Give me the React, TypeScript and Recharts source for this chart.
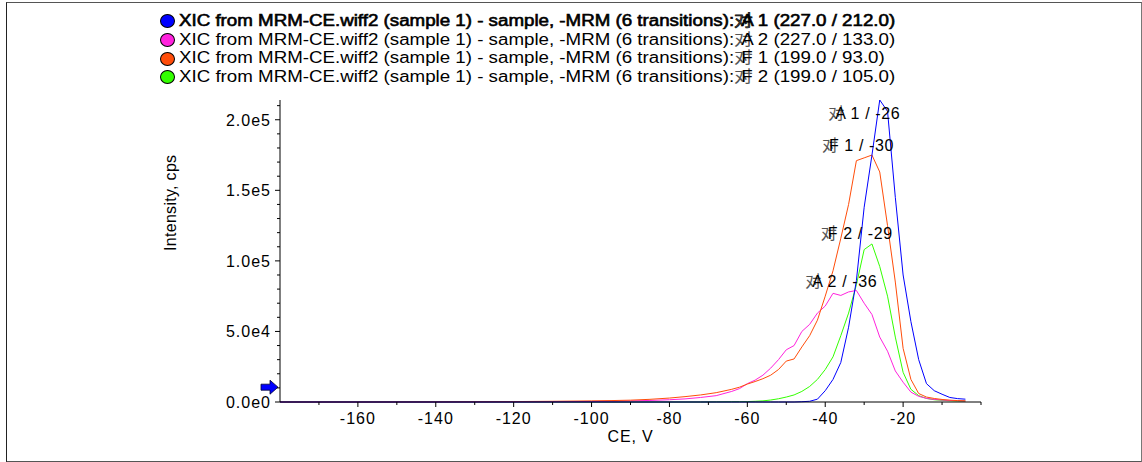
import { LineChart, Line, XAxis, YAxis, ReferenceDot } from "recharts"

// CE values (V) and intensities (cps)
const ce = [
  -180, -160, -140, -120, -110, -100, -95, -90, -85, -80, -76, -72, -68, -64,
  -62, -60, -58, -56, -54, -52, -50, -48, -46, -44, -42, -40, -38, -36, -34,
  -32, -30, -28, -26, -24, -22, -20, -18, -16, -14, -12, -10, -8, -6, -4,
]

const a1 = [
  0, 0, 0, 0, 0, 0, 0, 0, 0, 0, 0, 0, 0, 0,
  0, 0, 0, 0, 0, 0, 0, 0, 200, 500, 2000, 8000, 16000, 28000, 53000,
  86000, 138000, 175000, 214000, 206000, 145000, 90000, 57000, 30000, 13000, 8000, 5500, 3200, 2400, 2000,
]

const a2 = [
  0, 0, 0, 100, 200, 400, 600, 800, 1100, 1600, 2200, 3200, 4500, 7500,
  9500, 13000, 15500, 19000, 24000, 30000, 37000, 40000, 50000, 55000, 63000, 68000, 77000, 75500, 78000,
  79000, 70000, 62000, 46000, 36000, 22000, 14000, 7000, 4000, 2600, 1800, 1400, 1100, 900, 700,
]

const f1 = [
  0, 0, 100, 300, 500, 800, 1000, 1300, 1900, 2800, 3800, 5000, 6600, 9000,
  10500, 12700, 14500, 16500, 19000, 23000, 29000, 30500, 39000, 47000, 58000, 75000, 93000, 116000, 140000,
  171000, 173000, 175000, 163000, 125000, 85000, 38000, 16000, 6000, 3500, 2500, 1800, 1300, 1000, 800,
]

const f2 = [
  0, 0, 0, 0, 0, 0, 0, 0, 0, 0, 0, 0, 100, 200,
  250, 300, 500, 800, 1400, 2300, 3500, 5000, 7500, 11000, 16000, 23000, 32000, 47000, 63000,
  83000, 108000, 112000, 96000, 75000, 46000, 21000, 9000, 4500, 2500, 1600, 1200, 900, 700, 600,
]

const prefix = "XIC from MRM-CE.wiff2 (sample 1) - sample, -MRM (6 transitions):"

const series = [
  { key: "f2", glyph: "F", rest: " 2 (199.0 / 105.0)", color: "#33ff00", values: f2 },
  { key: "a2", glyph: "A", rest: " 2 (227.0 / 133.0)", color: "#ff22dd", values: a2 },
  { key: "f1", glyph: "F", rest: " 1 (199.0 / 93.0)", color: "#ff4d0a", values: f1 },
  { key: "a1", glyph: "A", rest: " 1 (227.0 / 212.0)", color: "#0000ff", values: a1 },
]
const legendOrder = ["a1", "a2", "f1", "f2"]

const peakLabels = [
  { glyph: "A", text: " 1 / -26", x: -30, y: 205000 },
  { glyph: "F", text: " 1 / -30", x: -31.6, y: 182000 },
  { glyph: "F", text: " 2 / -29", x: -31.9, y: 119700 },
  { glyph: "A", text: " 2 / -36", x: -35.9, y: 85700 },
]

const xMinor = [-170, -160, -150, -140, -130, -120, -110, -100, -90, -80, -70, -60, -50, -40, -30, -20, -10, 0]
const xLabels = [-160, -140, -120, -100, -80, -60, -40, -20]
const yMinor = [0, 10000, 20000, 30000, 40000, 50000, 60000, 70000, 80000, 90000, 100000, 110000, 120000, 130000, 140000, 150000, 160000, 170000, 180000, 190000, 200000, 210000]
const yLabels = [0, 50000, 100000, 150000, 200000]

const data = ce.map((v, i) => {
  const row: Record<string, number> = { ce: v }
  series.forEach((s) => (row[s.key] = s.values[i]))
  return row
})

const font = "'Liberation Sans', Arial, 'Noto Sans CJK SC', sans-serif"

const fmtY = (v: number) => (v === 0 ? "0.0e0" : v.toExponential(1).replace("+", ""))

const XTick = (props: any) => {
  const { x, y, payload } = props
  const major = xLabels.includes(payload.value)
  return (
    <g>
      <line x1={x} x2={x} y1={y} y2={y + (major ? 5 : 3)} stroke="#000" />
      {major && (
        <text x={x} y={y + 22} textAnchor="middle" fontSize={16} letterSpacing={1} fill="#000" fontFamily={font}>
          {payload.value}
        </text>
      )}
    </g>
  )
}

const YTick = (props: any) => {
  const { x, y, payload } = props
  const major = yLabels.includes(payload.value)
  return (
    <g>
      <line x1={x} x2={x - (major ? 5 : 3)} y1={y} y2={y} stroke="#000" />
      {major && (
        <text x={x - 9} y={y + 6} textAnchor="end" fontSize={16} letterSpacing={1} fill="#000" fontFamily={font}>
          {fmtY(payload.value)}
        </text>
      )}
    </g>
  )
}

const PeakLabel = ({ cx, cy, item }: any) => (
  <text x={cx} y={cy + 6} textAnchor="middle" fontSize={16} letterSpacing={0.6} fontFamily={font} fill="#000">
    <tspan fill="#555" letterSpacing={-9}>对</tspan>
    {item.glyph + item.text}
  </text>
)

const Arrow = ({ cx, cy }: any) => (
  <path
    d={`M${cx - 19},${cy - 3} L${cx - 10},${cy - 3} L${cx - 10},${cy - 7} L${cx - 2},${cy} L${cx - 10},${cy + 7} L${cx - 10},${cy + 3} L${cx - 19},${cy + 3} Z`}
    fill="#0000ff"
    stroke="#000033"
    strokeWidth={0.8}
  />
)

export default function App() {
  return (
    <div
      style={{
        position: "absolute",
        left: 0,
        top: 0,
        width: 1142,
        height: 462,
        background: "#fff",
        fontFamily: font,
      }}
    >
      <div
        style={{
          position: "absolute",
          left: 6,
          top: 2,
          width: 1134,
          height: 458,
          borderLeft: "1px solid #222",
          borderTop: "1px solid #555",
          borderBottom: "2px solid #555",
          borderRight: "1px solid #777",
        }}
      />
      <div style={{ position: "absolute", left: 160, top: 12, fontSize: 16, lineHeight: "18.7px" }}>
        {legendOrder.map((k, i) => {
          const s = series.find((r) => r.key === k)!
          return (
            <div key={k} style={{ display: "flex", alignItems: "center", whiteSpace: "nowrap" }}>
              <span
                style={{
                  display: "inline-block",
                  width: 13,
                  height: 12,
                  borderRadius: "50%",
                  background: s.color,
                  border: "1px solid #000",
                  marginRight: 4,
                }}
              />
              <span
                style={{
                  display: "inline-block",
                  transform: "scaleX(1.17)",
                  transformOrigin: "0 50%",
                  ...(i === 0 ? { WebkitTextStroke: "0.6px #000" } : {}),
                }}
              >
                {prefix}
                <span style={{ color: "#555", letterSpacing: -10 }}>对</span>
                {s.glyph + s.rest}
              </span>
            </div>
          )
        })}
      </div>
      <LineChart
        width={1142}
        height={462}
        data={data}
        margin={{ top: 100, right: 161, bottom: 10, left: 180 }}
        style={{ position: "absolute", left: 0, top: 0 }}
      >
        <XAxis
          dataKey="ce"
          type="number"
          domain={[-180, 0]}
          ticks={xMinor}
          interval={0}
          height={50}
          tickLine={false}
          tickSize={0}
          tickMargin={0}
          tick={<XTick />}
          axisLine={{ stroke: "#000" }}
          label={{ value: "CE, V", position: "insideBottom", offset: 10, fontSize: 16, letterSpacing: 0.8, fill: "#000", fontFamily: font }}
        />
        <YAxis
          type="number"
          domain={[0, 214000]}
          ticks={yMinor}
          interval={0}
          width={100}
          tickLine={false}
          tickSize={0}
          tickMargin={0}
          tick={<YTick />}
          axisLine={{ stroke: "#000" }}
          label={{
            value: "Intensity, cps",
            angle: -90,
            position: "insideLeft",
            offset: -10,
            fontSize: 16,
            letterSpacing: 0.3,
            fill: "#000",
            fontFamily: font,
          }}
        />
        {series.map((s) => (
          <Line
            key={s.key}
            dataKey={s.key}
            type="linear"
            stroke={s.color}
            strokeWidth={1}
            dot={false}
            activeDot={false}
            isAnimationActive={false}
          />
        ))}
        {peakLabels.map((p, i) => (
          <ReferenceDot key={i} x={p.x} y={p.y} r={0} ifOverflow="visible" shape={(props: any) => <PeakLabel {...props} item={p} />} />
        ))}
        <ReferenceDot x={-180} y={10500} r={0} ifOverflow="visible" shape={(props: any) => <Arrow {...props} />} />
      </LineChart>
    </div>
  )
}
